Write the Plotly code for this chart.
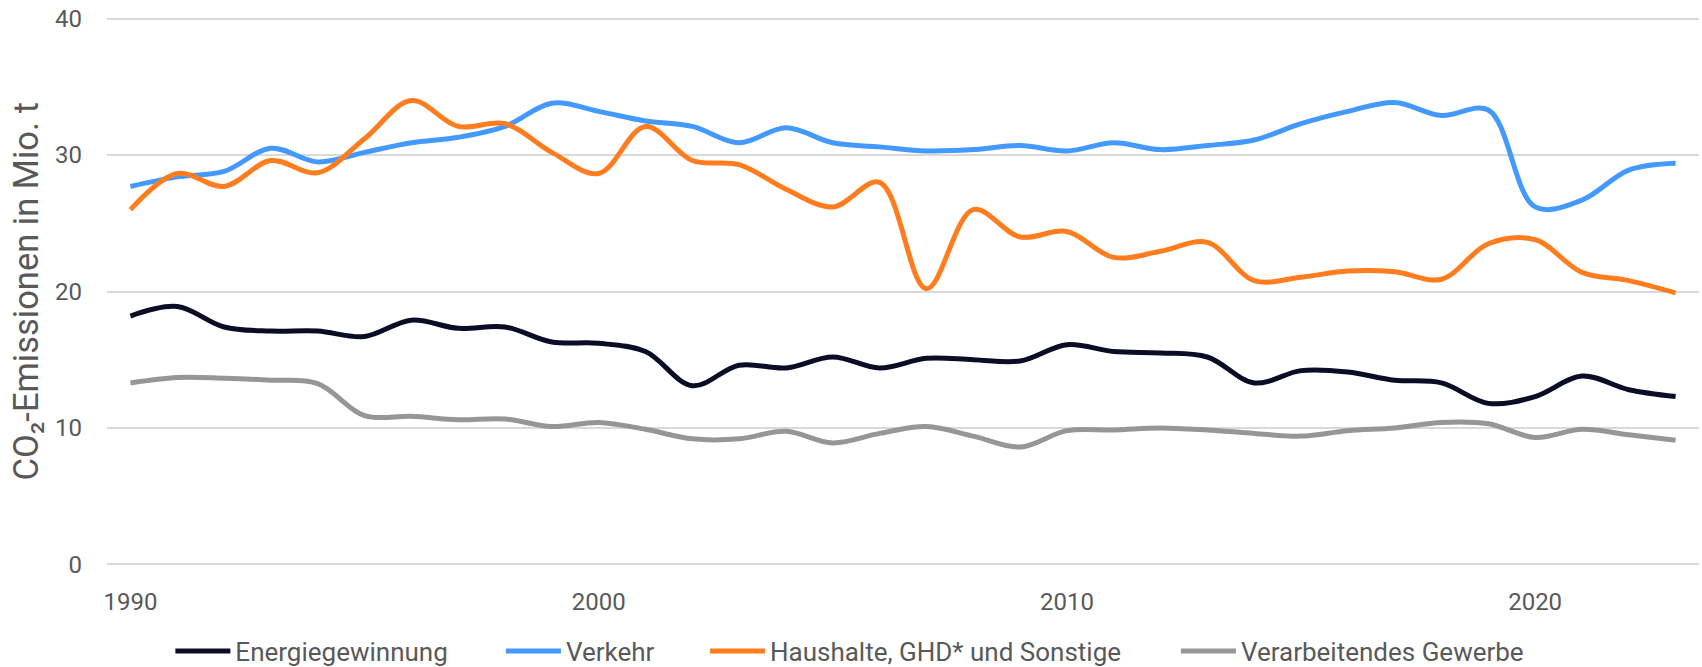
import plotly.graph_objects as go

years = list(range(1990, 2024))

energie = [18.2, 18.9, 17.4, 17.1, 17.1, 16.7, 17.9, 17.3, 17.4, 16.3,
           16.2, 15.6, 13.1, 14.6, 14.4, 15.2, 14.4, 15.1, 15.0, 14.9,
           16.1, 15.6, 15.5, 15.2, 13.3, 14.2, 14.1, 13.5, 13.3, 11.8,
           12.3, 13.8, 12.8, 12.3]

verkehr = [27.7, 28.4, 28.8, 30.5, 29.5, 30.2, 30.9, 31.3, 32.1, 33.8,
           33.2, 32.5, 32.1, 30.9, 32.0, 30.9, 30.6, 30.3, 30.4, 30.7,
           30.3, 30.9, 30.4, 30.7, 31.1, 32.3, 33.2, 33.85, 32.9, 33.3,
           26.2, 26.7, 28.9, 29.4]

haushalte = [26.0, 28.65, 27.7, 29.6, 28.7, 31.2, 34.0, 32.1, 32.3, 30.2,
             28.65, 32.1, 29.6, 29.3, 27.5, 26.2, 28.0, 20.2, 26.0, 24.0,
             24.4, 22.5, 22.95, 23.6, 20.8, 21.05, 21.5, 21.45, 20.9, 23.5,
             23.8, 21.4, 20.8, 19.9]

gewerbe = [13.3, 13.7, 13.65, 13.5, 13.25, 10.9, 10.85, 10.6, 10.65, 10.1,
           10.4, 9.9, 9.2, 9.2, 9.75, 8.9, 9.6, 10.1, 9.4, 8.6,
           9.8, 9.85, 10.0, 9.85, 9.6, 9.4, 9.8, 10.0, 10.4, 10.3,
           9.3, 9.9, 9.5, 9.1]

series = [
    ("Energiegewinnung", energie, "#0b0d26", "legend"),
    ("Verkehr", verkehr, "#4499ff", "legend2"),
    ("Haushalte, GHD* und Sonstige", haushalte, "#ff7d1f", "legend3"),
    ("Verarbeitendes Gewerbe", gewerbe, "#969696", "legend4"),
]

x_ticks = [1990, 2000, 2010, 2020]
y_ticks = [0, 10, 20, 30, 40]
y_title = "CO₂-Emissionen in Mio. t"

FONT = "Roboto"
TXT = "#595959"

fig = go.Figure()
for name, vals, col, lg in series:
    fig.add_trace(go.Scatter(
        x=years, y=vals, name=name, mode="lines",
        line=dict(color=col, width=5, shape="spline", smoothing=1.0),
        legend=lg,
    ))

legend_x = [0.1001, 0.2943, 0.4142, 0.6909]
leg_common = dict(orientation="h", xref="container", yref="container",
                  yanchor="middle", y=0.024, xanchor="left",
                  font=dict(family=FONT, size=26, color=TXT),
                  bgcolor="rgba(0,0,0,0)", itemwidth=55, tracegroupgap=0)

fig.update_layout(
    width=1702, height=667,
    margin=dict(l=107, r=3, t=17, b=101),
    paper_bgcolor="white", plot_bgcolor="white",
    font=dict(family=FONT, color=TXT),
    showlegend=True,
    legend=dict(x=legend_x[0], **leg_common),
    legend2=dict(x=legend_x[1], **leg_common),
    legend3=dict(x=legend_x[2], **leg_common),
    legend4=dict(x=legend_x[3], **leg_common),
    xaxis=dict(range=[1989.5, 2023.5], tickvals=x_ticks, ticktext=[str(t) for t in x_ticks],
               showgrid=False, zeroline=False, showline=False, automargin=False,
               tickfont=dict(family=FONT, size=24, color=TXT),
               ticks="", ticklabelstandoff=19),
    yaxis=dict(range=[-0.12, 40.12], tickvals=y_ticks, showgrid=True, gridcolor="#d9d9d9",
               gridwidth=2, zeroline=False, showline=False, automargin=False,
               tickfont=dict(family=FONT, size=24, color=TXT),
               ticks="", ticklabelstandoff=24),
    annotations=[dict(text=y_title, textangle=-90, xref="paper", yref="paper",
                      x=-0.0509, y=0.5, xanchor="center", yanchor="middle",
                      showarrow=False, font=dict(family=FONT, size=34.5, color=TXT))],
)

fig.write_html("out.html", config={"displayModeBar": False},
               post_script="document.body.style.margin='0';")
